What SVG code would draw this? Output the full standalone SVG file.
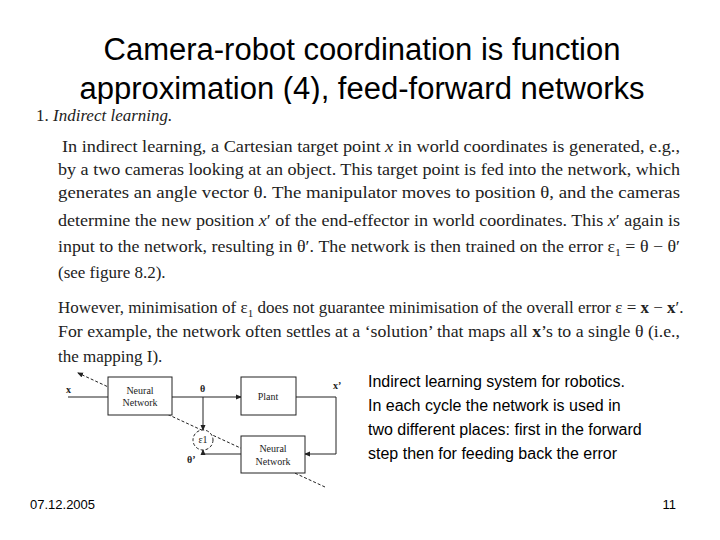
<svg xmlns="http://www.w3.org/2000/svg" width="720" height="540" viewBox="0 0 720 540">
<style>
.t{font-family:"Liberation Sans",Arial,sans-serif;fill:#000}
.s{font-family:"Liberation Serif","Times New Roman",serif;fill:#222;font-size:17px}
.d{font-family:"Liberation Serif",serif;font-size:10px;fill:#222}
.b{fill:#fff;stroke:#222;stroke-width:1}
.l{fill:none;stroke:#222;stroke-width:1}
</style>
<defs><marker id="a" markerWidth="6" markerHeight="6" refX="5" refY="3" orient="auto"><path d="M0,0.5L6,3L0,5.5z" fill="#222"/></marker></defs>
<rect width="720" height="540" fill="#fff"/>
<text class="t" x="362" y="60" font-size="31" text-anchor="middle">Camera-robot coordination is function</text>
<text class="t" x="362" y="99" font-size="31" text-anchor="middle">approximation (4), feed-forward networks</text>
<rect x="30" y="104" width="660" height="4" fill="#fff"/>
<text class="s" x="36" y="121">1.  <tspan font-style="italic">Indirect learning.</tspan></text>
<text class="s" x="62" y="152" textLength="618" lengthAdjust="spacingAndGlyphs">In indirect learning, a Cartesian target point <tspan font-style="italic">x</tspan> in world coordinates is generated, e.g.,</text>
<text class="s" x="58" y="175" textLength="622" lengthAdjust="spacingAndGlyphs">by a two cameras looking at an object.  This target point is fed into the network, which</text>
<text class="s" x="58" y="198" textLength="622" lengthAdjust="spacingAndGlyphs">generates an angle vector θ.  The manipulator moves to position θ, and the cameras</text>
<text class="s" x="58" y="226" textLength="622" lengthAdjust="spacingAndGlyphs">determine the new position <tspan font-style="italic">x</tspan>′ of the end-effector in world coordinates.  This <tspan font-style="italic">x</tspan>′ again is</text>
<text class="s" x="58" y="252" textLength="622" lengthAdjust="spacingAndGlyphs">input to the network, resulting in θ′. The network is then trained on the error ε<tspan font-size="11" dy="4">1</tspan><tspan dy="-4"> = θ − θ′</tspan></text>
<text class="s" x="58" y="278">(see figure 8.2).</text>
<text class="s" x="58" y="313">However, minimisation of ε<tspan font-size="11" dy="4">1</tspan><tspan dy="-4"> does not guarantee minimisation of the overall error ε = </tspan><tspan font-weight="bold">x</tspan> − <tspan font-weight="bold">x</tspan>′.</text>
<text class="s" x="58" y="337" textLength="622" lengthAdjust="spacingAndGlyphs">For example, the network often settles at a ‘solution’ that maps all <tspan font-weight="bold">x</tspan>’s to a single θ (i.e.,</text>
<text class="s" x="58" y="362">the mapping I).</text>
<g id="connectors">
<line class="l" x1="68" y1="397" x2="108" y2="397"/>
<line class="l" x1="172" y1="397" x2="241" y2="397" marker-end="url(#a)"/>
<line class="l" x1="203" y1="397" x2="203" y2="430" marker-end="url(#a)"/>
<polyline class="l" points="296,397 336,397 336,454 305,454" marker-end="url(#a)"/>
<polyline class="l" points="241,454 203,454 203,450" marker-end="url(#a)"/>
<line class="l" x1="325" y1="487" x2="78" y2="373" stroke-dasharray="3,2" marker-end="url(#a)"/>
</g>
<g id="nn1"><rect class="b" x="108" y="377" width="64" height="38"/><text class="d" x="140" y="394" text-anchor="middle">Neural</text><text class="d" x="140" y="406" text-anchor="middle">Network</text></g>
<g id="plant"><rect class="b" x="241" y="377" width="55" height="38"/><text class="d" x="268" y="400" text-anchor="middle">Plant</text></g>
<g id="err"><circle class="b" cx="203" cy="440" r="10" stroke-dasharray="3,2"/><text class="d" x="203" y="443" text-anchor="middle" font-size="7">ε1</text></g>
<g id="nn2"><rect class="b" x="241" y="436" width="64" height="37"/><text class="d" x="273" y="452" text-anchor="middle">Neural</text><text class="d" x="273" y="465" text-anchor="middle">Network</text></g>
<text class="d" x="66" y="393" font-weight="bold">x</text>
<text class="d" x="200" y="392" font-weight="bold">θ</text>
<text class="d" x="333" y="389" font-weight="bold">x’</text>
<text class="d" x="187" y="463" font-weight="bold">θ’</text>
<text class="t" font-size="16" x="368" y="387">Indirect learning system for robotics.</text>
<text class="t" font-size="16" x="368" y="411">In each cycle the network is used in</text>
<text class="t" font-size="16" x="368" y="435">two different places: first in the forward</text>
<text class="t" font-size="16" x="368" y="459">step then for feeding back the error</text>
<text class="t" font-size="13" x="30" y="509">07.12.2005</text>
<text class="t" font-size="13" x="676" y="509" text-anchor="end">11</text>
</svg>
